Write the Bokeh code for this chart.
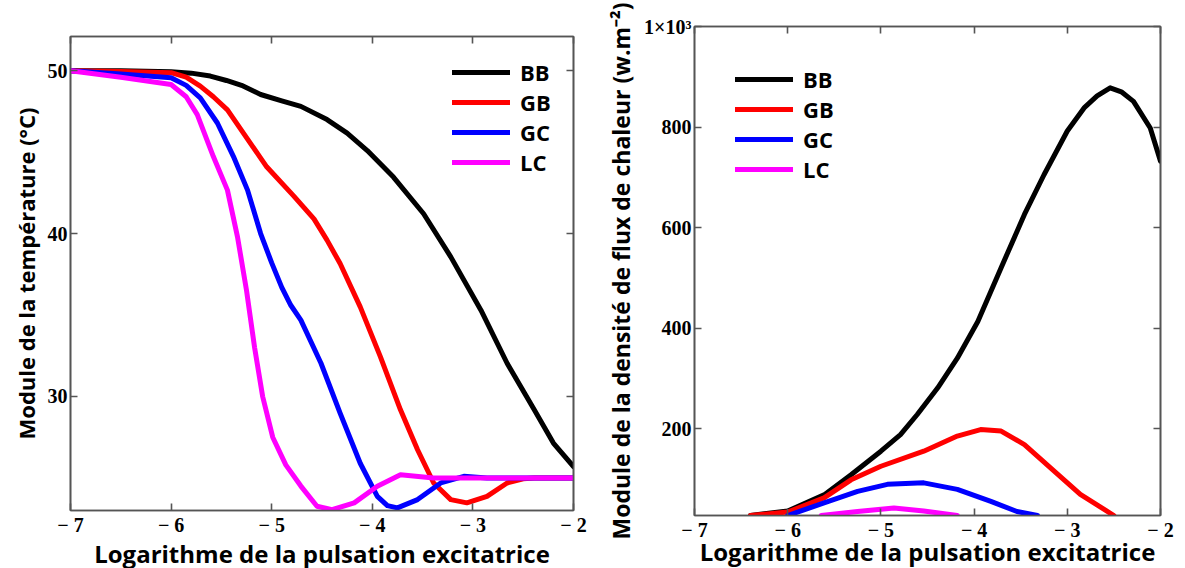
from bokeh.plotting import figure
from bokeh.layouts import row, column
from bokeh.models import LinearAxis, FixedTicker, Legend, LegendItem, Range1d
from bokeh.embed import file_html
from bokeh.resources import INLINE

series_names = ["BB", "GB", "GC", "LC"]
colors = ["#000000", "#ff0000", "#0000ff", "#ff00ff"]
x_ticks = [-7, -6, -5, -4, -3, -2]
x_tick_labels = {-7: "\u2212 7", -6: "\u2212 6", -5: "\u2212 5", -4: "\u2212 4", -3: "\u2212 3", -2: "\u2212 2"}

# ---- Left panel: Module de la temperature (degC) vs log pulsation
temp_BB_x = [-7, -6.5, -6.0, -5.8, -5.61, -5.45, -5.3, -5.11, -4.9, -4.71, -4.45, -4.25, -4.05, -3.79, -3.49, -3.22, -2.92, -2.66, -2.39, -2.2, -2.0]
temp_BB_y = [50, 50, 49.94, 49.85, 49.67, 49.4, 49.1, 48.54, 48.15, 47.81, 47.0, 46.17, 45.1, 43.47, 41.22, 38.57, 35.3, 32.04, 29.18, 27.14, 25.7]
temp_GB_x = [-7, -6.5, -6.0, -5.85, -5.71, -5.58, -5.44, -5.24, -5.05, -4.78, -4.58, -4.45, -4.32, -4.12, -3.92, -3.72, -3.55, -3.39, -3.22, -3.06, -2.86, -2.66, -2.5, -2.39, -2.0]
temp_GB_y = [50, 49.95, 49.88, 49.6, 49.05, 48.4, 47.6, 45.8, 44.1, 42.3, 40.9, 39.6, 38.16, 35.5, 32.45, 29.18, 26.73, 24.69, 23.67, 23.47, 23.87, 24.69, 24.95, 25.0, 25.0]
temp_GC_x = [-7, -6.5, -6.0, -5.85, -5.71, -5.54, -5.38, -5.24, -5.11, -5.0, -4.9, -4.81, -4.71, -4.51, -4.32, -4.12, -3.95, -3.85, -3.75, -3.55, -3.32, -3.09, -2.86, -2.0]
temp_GC_y = [50, 49.8, 49.57, 49.1, 48.33, 46.79, 44.73, 42.67, 40.0, 38.2, 36.7, 35.6, 34.69, 32.04, 28.98, 25.9, 23.87, 23.3, 23.16, 23.67, 24.69, 25.1, 25.0, 25.0]
temp_LC_x = [-7, -6.5, -6.0, -5.85, -5.74, -5.58, -5.44, -5.34, -5.25, -5.17, -5.09, -4.99, -4.86, -4.71, -4.55, -4.4, -4.18, -3.95, -3.72, -3.39, -2.0]
temp_LC_y = [50, 49.6, 49.15, 48.4, 47.3, 44.73, 42.67, 39.8, 36.5, 33.0, 30.0, 27.5, 25.8, 24.5, 23.26, 23.05, 23.47, 24.49, 25.2, 25.0, 25.0]

# ---- Right panel: Module de la densite de flux de chaleur
flux_BB_x = [-6.4, -6.0, -5.61, -5.32, -5.0, -4.79, -4.61, -4.39, -4.18, -3.96, -3.71, -3.46, -3.25, -3.0, -2.82, -2.68, -2.54, -2.42, -2.29, -2.11, -2.0]
flux_BB_y = [27, 36, 68, 108, 155, 188, 228, 281, 340, 413, 520, 626, 705, 792, 838, 862, 878, 870, 851, 798, 732]
flux_GB_x = [-6.4, -6.0, -5.61, -5.32, -5.0, -4.54, -4.18, -3.93, -3.71, -3.46, -3.18, -2.86, -2.5]
flux_GB_y = [27, 34, 62, 98, 125, 155, 185, 198, 195, 168, 122, 69, 27]
flux_GC_x = [-6.0, -5.61, -5.25, -4.93, -4.54, -4.18, -3.82, -3.54, -3.32]
flux_GC_y = [27, 52, 75, 89, 92, 79, 55, 35, 27]
flux_LC_x = [-5.64, -5.25, -4.86, -4.54, -4.18]
flux_LC_y = [27, 35, 42, 36, 27]

AXIS_COLOR = "#555555"
TITLE_FONT = "Open Sans"


def style_axis(ax, labels=True, title=None, title_standoff=0, title_size="24px"):
    ax.axis_line_color = AXIS_COLOR
    ax.axis_line_width = 1.6
    ax.major_tick_line_color = AXIS_COLOR
    ax.major_tick_line_width = 1.6
    ax.major_tick_in = 7
    ax.major_tick_out = 0
    ax.minor_tick_line_color = None
    if labels:
        ax.major_label_text_font = "Liberation Serif"
        ax.major_label_text_font_style = "bold"
        ax.major_label_text_font_size = "20px"
        ax.major_label_text_color = "#000000"
        ax.major_label_standoff = 3
    else:
        ax.major_label_text_font_size = "1px"
        ax.major_label_text_color = None
        ax.major_label_standoff = 0
    if title:
        ax.axis_label = title
        ax.axis_label_text_font = TITLE_FONT
        ax.axis_label_text_font_style = "bold"
        ax.axis_label_text_font_size = title_size
        ax.axis_label_text_color = "#000000"
        ax.axis_label_standoff = title_standoff


def make_panel(xs, ys, y_range, y_ticks, y_title, y_title_size, frame_w, frame_h, borders,
               legend_loc, x_title_standoff, y_overrides=None):
    p = figure(output_backend="svg", toolbar_location=None,
               frame_width=frame_w, frame_height=frame_h,
               x_range=Range1d(-7, -2), y_range=Range1d(*y_range),
               min_border_left=borders[0], min_border_right=borders[1],
               min_border_top=borders[2], min_border_bottom=borders[3],
               background_fill_color="white", border_fill_color="white")
    p.title.visible = False
    p.xgrid.visible = False
    p.ygrid.visible = False
    p.outline_line_color = AXIS_COLOR
    p.outline_line_width = 1.6

    p.xaxis.ticker = FixedTicker(ticks=x_ticks)
    p.xaxis.major_label_overrides = x_tick_labels
    style_axis(p.xaxis[0], True, "Logarithme de la pulsation excitatrice", x_title_standoff)
    p.yaxis.ticker = FixedTicker(ticks=y_ticks)
    if y_overrides:
        p.yaxis.major_label_overrides = y_overrides
    style_axis(p.yaxis[0], True, y_title, 4, y_title_size)

    top = LinearAxis(ticker=FixedTicker(ticks=x_ticks))
    style_axis(top, False)
    p.add_layout(top, "above")
    right = LinearAxis(ticker=FixedTicker(ticks=y_ticks))
    style_axis(right, False)
    p.add_layout(right, "right")

    items = []
    for name, c, x, y in zip(series_names, colors, xs, ys):
        r = p.line(x, y, line_color=c, line_width=5, line_join="round", line_cap="round")
        items.append(LegendItem(label=name, renderers=[r]))
    leg = Legend(items=items, location=legend_loc, border_line_color=None,
                 background_fill_alpha=0, glyph_width=58, glyph_height=30,
                 label_height=30, spacing=0, padding=0, margin=0, label_standoff=10,
                 label_text_font=TITLE_FONT, label_text_font_style="bold",
                 label_text_font_size="22px", label_text_color="#000000")
    p.add_layout(leg)
    return p


p1 = make_panel([temp_BB_x, temp_GB_x, temp_GC_x, temp_LC_x],
                [temp_BB_y, temp_GB_y, temp_GC_y, temp_LC_y],
                (23.0, 52.1), [30, 40, 50], "Module de la température (°C)", "22px",
                503, 474, (70, 17, 36, 58), (382, 333), -2)

p2 = make_panel([flux_BB_x, flux_GB_x, flux_GC_x, flux_LC_x],
                [flux_BB_y, flux_GB_y, flux_GC_y, flux_LC_y],
                (27, 1000), [200, 400, 600, 800, 1000],
                "Module de la densité de flux de chaleur (w.m\u207b\u00b2)", "23px",
                466, 489, (104, 25, 26, 53), (41, 331), -9,
                y_overrides={1000: "1×10³"})

layout = row(column(p1), column(p2), spacing=0)
open("out.html", "w").write(file_html(layout, INLINE))
